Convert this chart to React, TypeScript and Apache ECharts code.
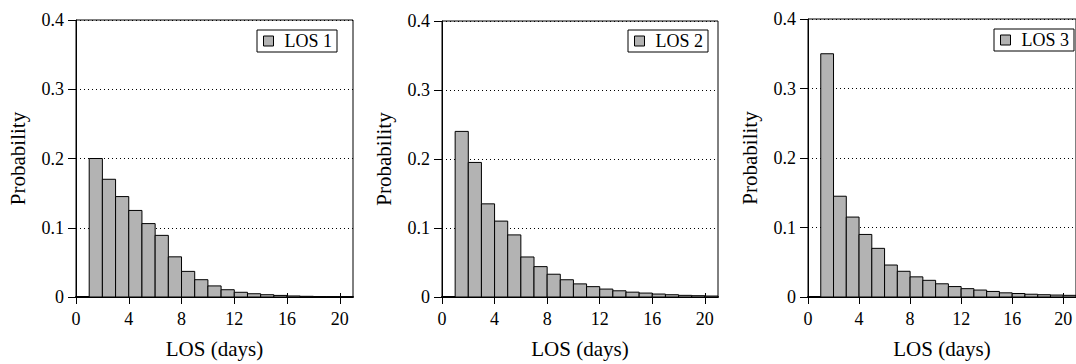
import React, { useEffect, useRef } from "react";
import * as echarts from "echarts";

const days = [1, 2, 3, 4, 5, 6, 7, 8, 9, 10, 11, 12, 13, 14, 15, 16, 17, 18, 19, 20];
const los1 = [0.2, 0.17, 0.145, 0.125, 0.106, 0.089, 0.058, 0.037, 0.025, 0.016, 0.0105, 0.0068, 0.0047, 0.0033, 0.0023, 0.0015, 0.001, 0.0006, 0.0004, 0.0003];
const los2 = [0.24, 0.195, 0.135, 0.11, 0.09, 0.058, 0.044, 0.033, 0.025, 0.019, 0.015, 0.0115, 0.009, 0.007, 0.0057, 0.0043, 0.0033, 0.0024, 0.0019, 0.0014];
const los3 = [0.35, 0.145, 0.115, 0.09, 0.07, 0.046, 0.037, 0.029, 0.024, 0.019, 0.015, 0.012, 0.01, 0.008, 0.006, 0.005, 0.004, 0.0033, 0.0028, 0.0024];
const seriesNames = ["LOS 1", "LOS 2", "LOS 3"];
const xTicks = [0, 4, 8, 12, 16, 20];

const FONT = "'Liberation Serif', 'Times New Roman', Times, serif";
const BAR_FILL = "#b3b3b3";

const panels = [
  { grid: { left: 76, top: 20, width: 277, height: 281 }, legend: { left: 257, top: 30 } },
  { grid: { left: 442, top: 21, width: 276, height: 280 }, legend: { left: 628, top: 30 } },
  { grid: { left: 808, top: 19, width: 277, height: 284 }, legend: { left: 994, top: 29 } },
];

export default function App() {
  const ref = useRef<HTMLDivElement>(null);
  useEffect(() => {
    if (!ref.current) return;
    const chart = echarts.init(ref.current, null, { renderer: "svg" });
    const data = [los1, los2, los3];

    const grids: any[] = [];
    const xAxes: any[] = [];
    const yAxes: any[] = [];
    const series: any[] = [];
    const legends: any[] = [];

    panels.forEach((p, i) => {
      grids.push({
        ...p.grid,
        show: true,
        borderColor: "#000",
        borderWidth: 1,
        backgroundColor: "transparent",
      });
      xAxes.push({
        type: "value",
        gridIndex: i,
        position: "bottom",
        min: 0,
        max: 21,
        name: "LOS (days)",
        nameLocation: "middle",
        nameGap: 41,
        nameTextStyle: { fontFamily: FONT, fontSize: 21, color: "#000" },
        axisLine: { show: true, onZero: false, lineStyle: { color: "#000", width: 2 } },
        axisTick: { show: true, inside: false, length: 7, customValues: xTicks, lineStyle: { color: "#000", width: 1 } },
        axisLabel: { show: true, customValues: xTicks, margin: 13, fontFamily: FONT, fontSize: 18, color: "#000" },
        splitLine: { show: false },
      });
      xAxes.push({
        type: "value",
        gridIndex: i,
        position: "bottom",
        min: 0,
        max: 21,
        axisLine: { show: false },
        axisTick: { show: true, inside: true, length: 4, customValues: xTicks, lineStyle: { color: "#000", width: 1 } },
        axisLabel: { show: false },
        splitLine: { show: false },
      });
      yAxes.push({
        type: "value",
        gridIndex: i,
        min: 0,
        max: 0.4,
        interval: 0.1,
        name: "Probability",
        nameLocation: "middle",
        nameGap: 48,
        nameTextStyle: { fontFamily: FONT, fontSize: 21, color: "#000" },
        axisLine: { show: true, lineStyle: { color: "#000", width: 1 } },
        axisTick: { show: true, inside: false, length: 8, lineStyle: { color: "#000", width: 1 } },
        axisLabel: {
          margin: 12,
          fontFamily: FONT,
          fontSize: 18,
          color: "#000",
          formatter: (v: number) => (v === 0 ? "0" : v.toFixed(1)),
        },
        splitLine: { show: true, lineStyle: { color: "#000", type: [1, 3], width: 1 } },
      });
      const vals = data[i];
      series.push({
        type: "custom",
        name: seriesNames[i],
        xAxisIndex: i * 2,
        yAxisIndex: i,
        clip: true,
        itemStyle: { color: BAR_FILL, borderColor: "#000", borderWidth: 1 },
        data: days.map((d, k) => [d, vals[k]]),
        renderItem: (_params: any, api: any) => {
          const d = api.value(0);
          const v = api.value(1);
          const p0 = api.coord([d, v]);
          const p1 = api.coord([d + 1, 0]);
          return {
            type: "rect",
            shape: { x: p0[0], y: p0[1], width: p1[0] - p0[0], height: p1[1] - p0[1] },
            style: { fill: BAR_FILL, stroke: "#000", lineWidth: 1 },
          };
        },
      });
      legends.push({
        left: p.legend.left,
        top: p.legend.top,
        orient: "horizontal",
        padding: [2, 5, 2, 6],
        borderColor: "#000",
        borderWidth: 1,
        backgroundColor: "#fff",
        itemWidth: 10,
        itemHeight: 10,
        icon: "rect",
        selectedMode: false,
        textStyle: { fontFamily: FONT, fontSize: 18, color: "#000", padding: [0, 0, 0, 6] },
        data: [
          {
            name: seriesNames[i],
            icon: "rect",
            itemStyle: { color: BAR_FILL, borderColor: "#000", borderWidth: 1 },
          },
        ],
      });
    });

    chart.setOption({
      animation: false,
      backgroundColor: "#fff",
      textStyle: { fontFamily: FONT },
      grid: grids,
      xAxis: xAxes,
      yAxis: yAxes,
      legend: legends,
      series,
    });
    return () => chart.dispose();
  }, []);

  return (
    <div
      ref={ref}
      style={{ position: "absolute", left: 0, top: 0, width: 1076, height: 364 }}
    />
  );
}
